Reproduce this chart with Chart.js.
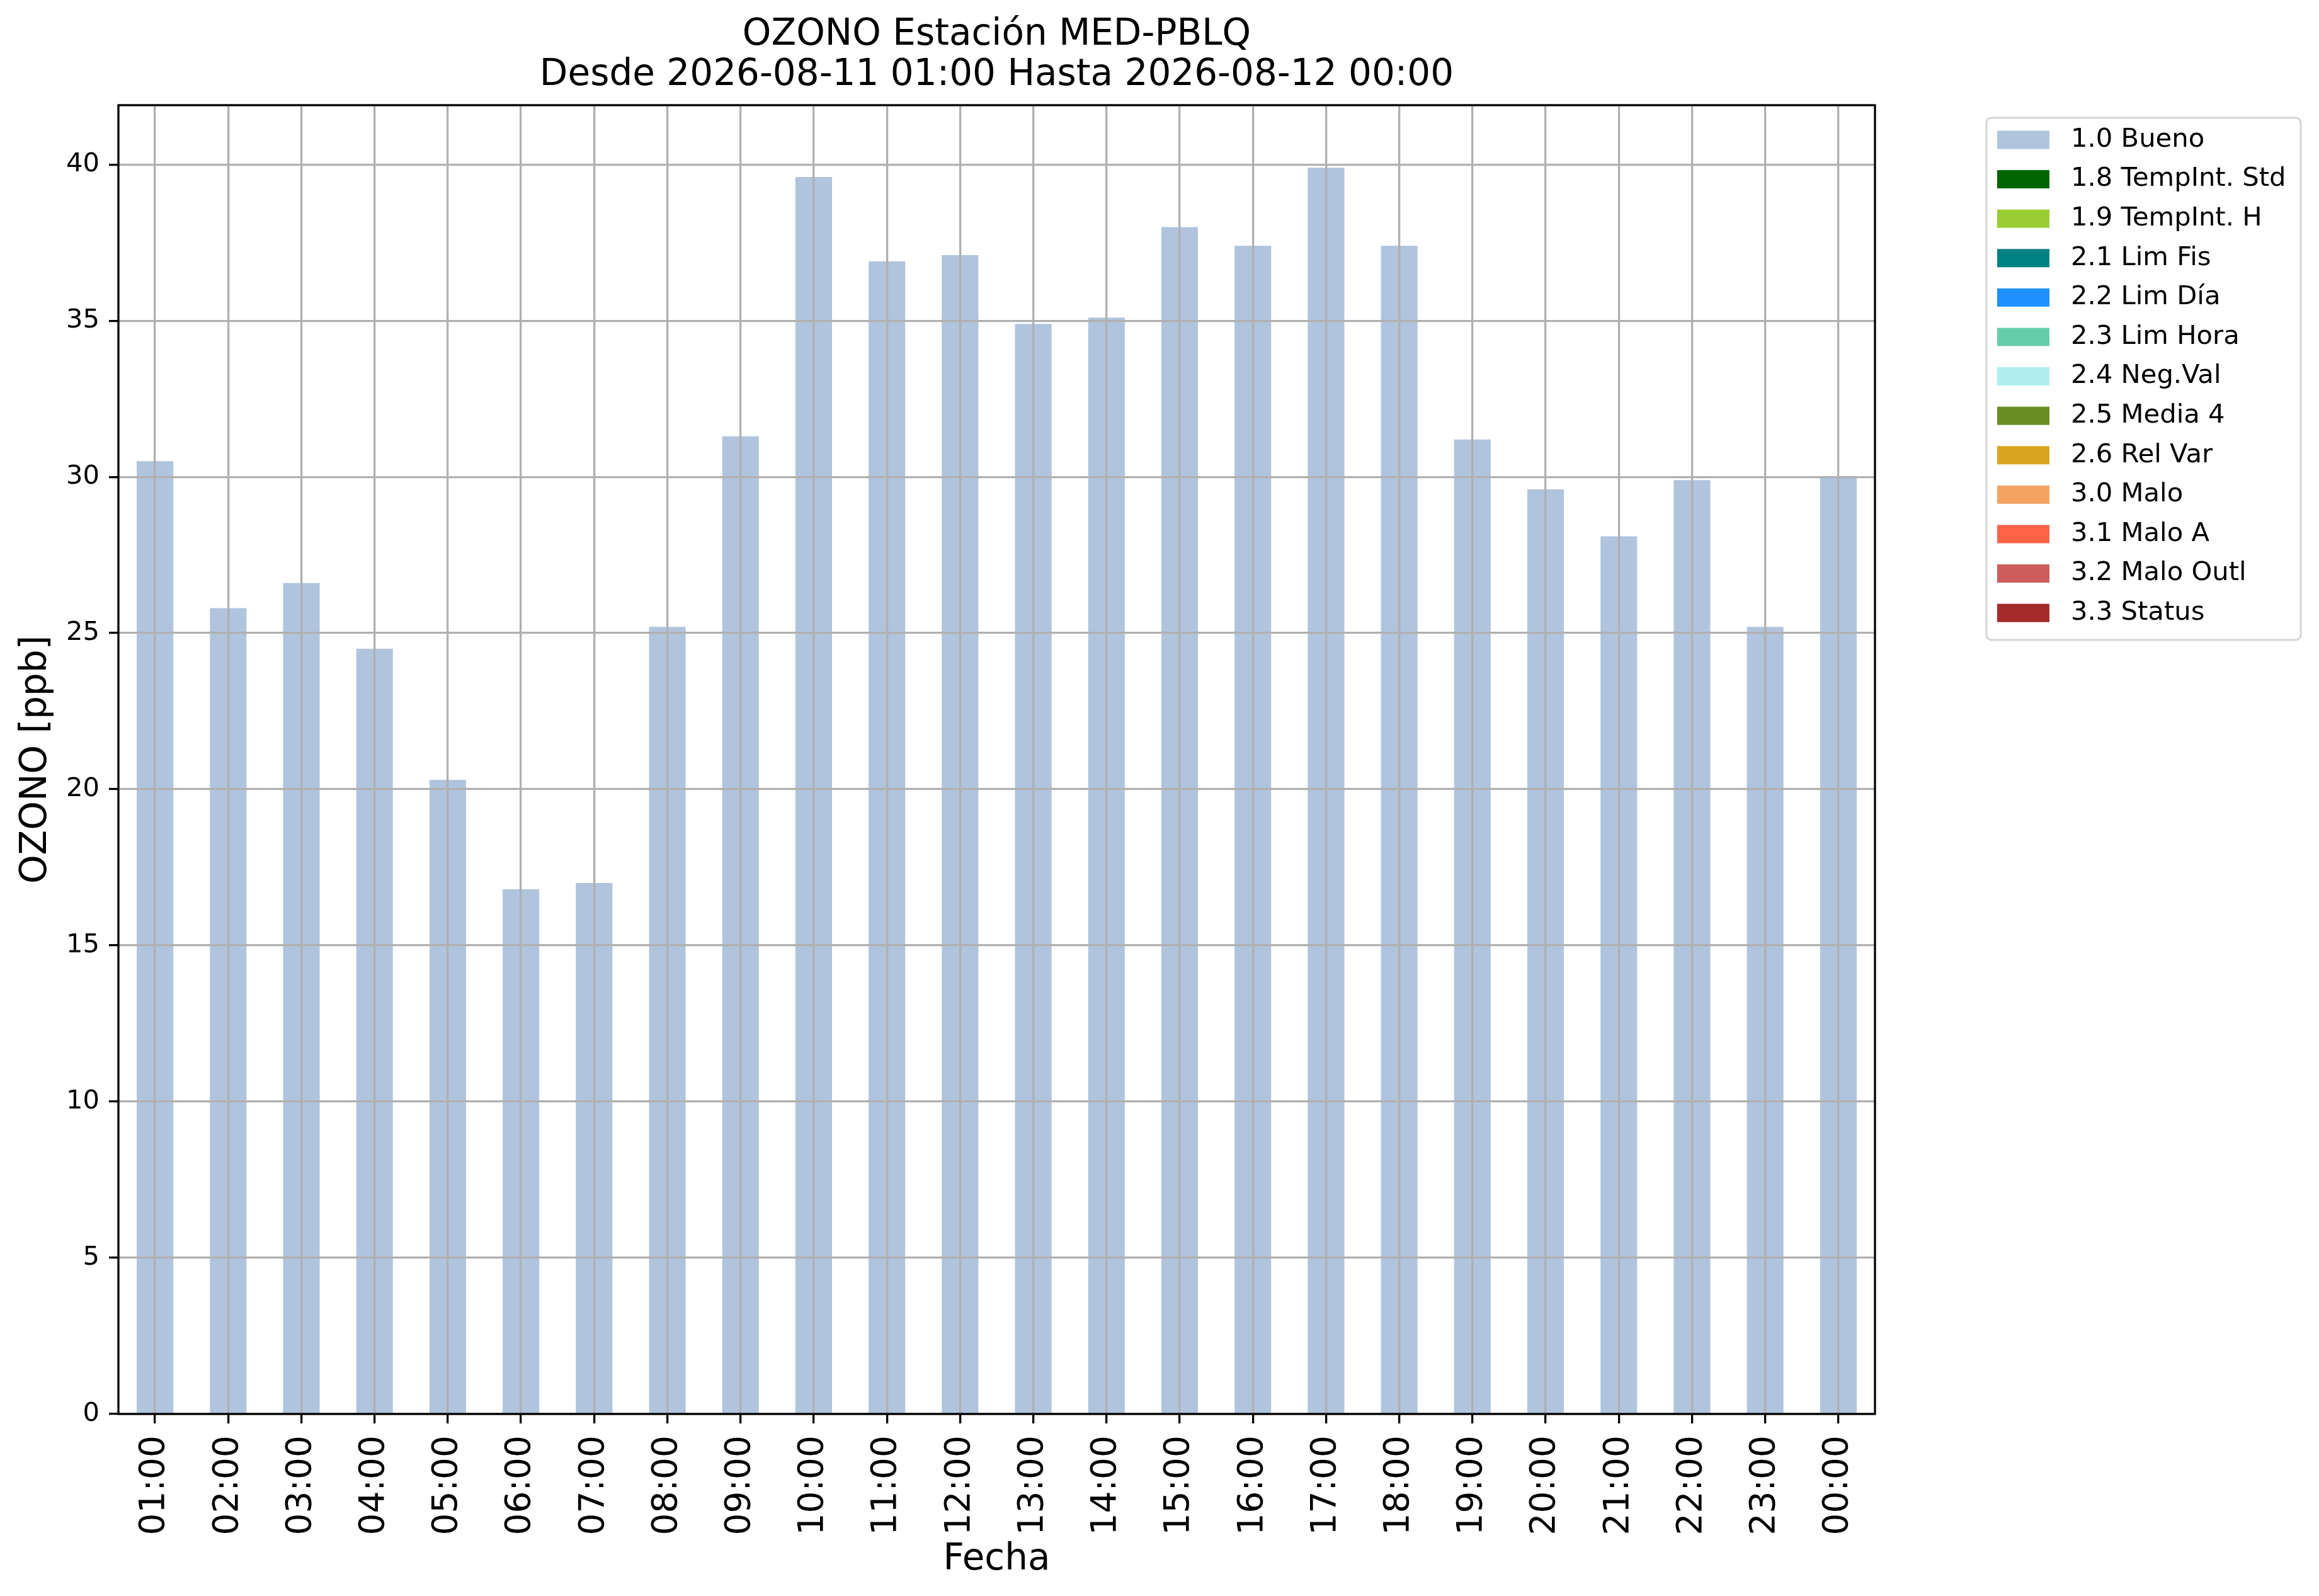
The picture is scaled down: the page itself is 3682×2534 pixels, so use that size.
<!DOCTYPE html>
<html>
<head>
<meta charset="utf-8">
<title>OZONO Estación MED-PBLQ</title>
<script src="https://cdn.jsdelivr.net/npm/chart.js@4.4.1/dist/chart.umd.min.js"></script>
<style>
  html, body { margin: 0; padding: 0; background: #fff; }
  canvas { display: block; }
</style>
</head>
<body>
<canvas id="ozonoChart" width="3682" height="2534"></canvas>
<script>
// horas del periodo y concentraciones horarias (ppb)
const horas = ['01:00','02:00','03:00','04:00','05:00','06:00','07:00','08:00','09:00','10:00','11:00','12:00',
               '13:00','14:00','15:00','16:00','17:00','18:00','19:00','20:00','21:00','22:00','23:00','00:00'];
const ozono = [30.5, 25.8, 26.6, 24.5, 20.3, 16.8, 17.0, 25.2, 31.3, 39.6, 36.9, 37.1,
               34.9, 35.1, 38.0, 37.4, 39.9, 37.4, 31.2, 29.6, 28.1, 29.9, 25.2, 30.0];
const yTicks = [0, 5, 10, 15, 20, 25, 30, 35, 40];

// banderas de calidad
const flagLabels = ['1.0 Bueno','1.8 TempInt. Std','1.9 TempInt. H','2.1 Lim Fis','2.2 Lim Día','2.3 Lim Hora',
                    '2.4 Neg.Val','2.5 Media 4','2.6 Rel Var','3.0 Malo','3.1 Malo A','3.2 Malo Outl','3.3 Status'];
const flagColors = ['#b0c4de','#006400','#9acd32','#008080','#1e90ff','#66cdaa',
                    '#afeeee','#6b8e23','#daa520','#f4a460','#ff6347','#cd5c5c','#a52a2a'];

const FONT = 'DejaVu Sans';
Chart.defaults.font.family = FONT;
Chart.defaults.color = '#000';

// solo "Bueno" tiene datos, el resto queda vacío para la leyenda
const datasets = flagLabels.map((label, i) => ({
  label,
  data: i === 0 ? ozono : horas.map(() => null),
  backgroundColor: flagColors[i],
  borderWidth: 0,
  barPercentage: 0.5,
  categoryPercentage: 1.0
}));

const frame = {
  id: 'frame',
  afterDraw(chart) {
    const { ctx, chartArea: a } = chart;
    ctx.save();
    ctx.strokeStyle = '#000';
    ctx.lineWidth = 3.3;
    ctx.strokeRect(a.left, a.top, a.right - a.left, a.bottom - a.top);
    ctx.restore();
  }
};

const legendBox = {
  id: 'legendBox',
  afterDraw(chart) {
    const { ctx, chartArea: a } = chart;
    const x0 = a.right + 177, y0 = a.top + 20, w = 499, h = 829, r = 8;
    ctx.save();
    ctx.beginPath();
    ctx.roundRect(x0, y0, w, h, r);
    ctx.fillStyle = '#fff';
    ctx.fill();
    ctx.strokeStyle = '#d5d5d5';
    ctx.lineWidth = 3;
    ctx.stroke();
    ctx.font = `41.7px "${FONT}"`;
    ctx.textBaseline = 'middle';
    ctx.textAlign = 'left';
    chart.data.datasets.forEach((ds, i) => {
      const cy = y0 + 35 + i * 62.6;
      ctx.fillStyle = ds.backgroundColor;
      ctx.fillRect(x0 + 17, cy - 14.5, 83, 29);
      ctx.fillStyle = '#000';
      ctx.fillText(ds.label, x0 + 134, cy);
    });
    ctx.restore();
  }
};

new Chart(document.getElementById('ozonoChart'), {
  type: 'bar',
  data: { labels: horas, datasets },
  plugins: [frame, legendBox],
  options: {
    responsive: false,
    animation: false,
    devicePixelRatio: 1,
    layout: { padding: { left: 0, right: 705, top: 0, bottom: 0 } },
    plugins: {
      legend: { display: false },
      tooltip: { enabled: false },
      title: {
        display: true,
        fullSize: false,
        text: ['OZONO Estación MED-PBLQ', 'Desde 2026-08-11 01:00 Hasta 2026-08-12 00:00'],
        font: { size: 58, weight: 'normal', lineHeight: '64px' },
        padding: { top: 24, bottom: 15 },
        color: '#000'
      }
    },
    scales: {
      x: {
        stacked: true,
        offset: true,
        grid: { display: true, offset: false, color: '#b0b0b0', lineWidth: 3.3, z: 1,
                tickColor: '#000', tickWidth: 3.3, tickLength: 15 },
        border: { display: false },
        ticks: { autoSkip: false, maxRotation: 90, minRotation: 90, padding: 19,
                 font: { size: 55 } },
        title: { display: true, text: 'Fecha', font: { size: 58 }, padding: { top: 0, bottom: 22 } },
        afterFit(scale) { scale.height = 289; }
      },
      y: {
        stacked: true,
        min: 0,
        max: 41.9,
        grid: { color: '#b0b0b0', lineWidth: 3.3, z: 1,
                tickColor: '#000', tickWidth: 3.3, tickLength: 15 },
        border: { display: false },
        ticks: { stepSize: 5, includeBounds: false, padding: 15, font: { size: 41.7 } },
        afterBuildTicks(scale) { scale.ticks = yTicks.map(v => ({ value: v })); },
        title: { display: true, text: 'OZONO [ppb]', font: { size: 58 }, padding: { top: 23, bottom: 0 } },
        afterFit(scale) { scale.width = 188; }
      }
    }
  }
});
</script>
</body>
</html>
